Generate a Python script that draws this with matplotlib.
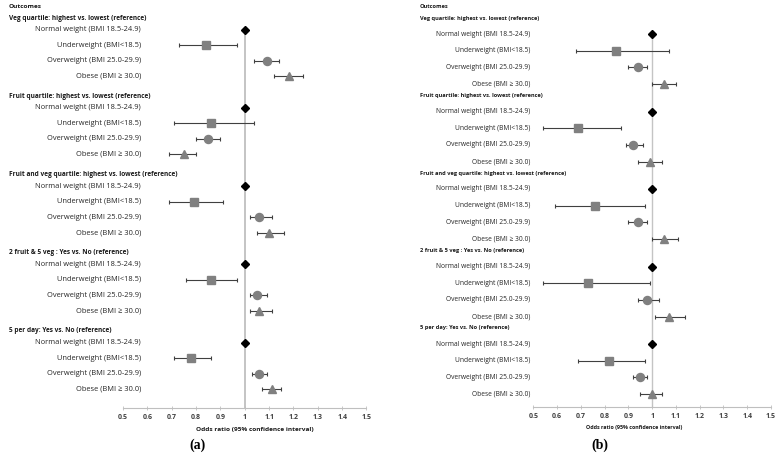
import matplotlib
matplotlib.use("Agg")
import matplotlib.pyplot as plt
import matplotlib.transforms as mtransforms

plt.rcParams["font.family"] = ["Open Sans", "DejaVu Sans"]

groups = [
    "Veg quartile: highest vs. lowest (reference)",
    "Fruit quartile: highest vs. lowest (reference)",
    "Fruit and veg quartile: highest vs. lowest (reference)",
    "2 fruit & 5 veg : Yes vs. No (reference)",
    "5 per day: Yes vs. No (reference)",
]
rows = [
    "Normal weight (BMI 18.5-24.9)",
    "Underweight (BMI<18.5)",
    "Overweight (BMI 25.0-29.9)",
    "Obese (BMI \u2265 30.0)",
]
ticks = [0.5, 0.6, 0.7, 0.8, 0.9, 1.0, 1.1, 1.2, 1.3, 1.4, 1.5]
tick_labels = ["0.5", "0.6", "0.7", "0.8", "0.9", "1", "1.1", "1.2", "1.3", "1.4", "1.5"]
xlabel = "Odds ratio (95% confidence interval)"

# panel (a): odds ratio, lower and upper CI, per group x [normal, under, over, obese]
or_a = [[1.00, 0.84, 1.09, 1.18],
        [1.00, 0.86, 0.85, 0.75],
        [1.00, 0.79, 1.06, 1.10],
        [1.00, 0.86, 1.05, 1.06],
        [1.00, 0.78, 1.06, 1.11]]
lo_a = [[1.00, 0.73, 1.04, 1.12],
        [1.00, 0.71, 0.80, 0.69],
        [1.00, 0.69, 1.02, 1.05],
        [1.00, 0.76, 1.02, 1.02],
        [1.00, 0.71, 1.03, 1.07]]
hi_a = [[1.00, 0.97, 1.14, 1.24],
        [1.00, 1.04, 0.90, 0.80],
        [1.00, 0.91, 1.11, 1.16],
        [1.00, 0.97, 1.09, 1.11],
        [1.00, 0.86, 1.09, 1.15]]

# panel (b)
or_b = [[1.00, 0.85, 0.94, 1.05],
        [1.00, 0.69, 0.92, 0.99],
        [1.00, 0.76, 0.94, 1.05],
        [1.00, 0.73, 0.98, 1.07],
        [1.00, 0.82, 0.95, 1.00]]
lo_b = [[1.00, 0.68, 0.90, 1.00],
        [1.00, 0.54, 0.89, 0.94],
        [1.00, 0.59, 0.90, 1.00],
        [1.00, 0.54, 0.94, 1.01],
        [1.00, 0.69, 0.92, 0.95]]
hi_b = [[1.00, 1.07, 0.98, 1.10],
        [1.00, 0.87, 0.96, 1.04],
        [1.00, 0.97, 0.98, 1.11],
        [1.00, 0.99, 1.03, 1.14],
        [1.00, 0.97, 0.98, 1.04]]

W, H = 784, 458
MARKERS = [("D", "black", 4.4), ("s", "#808080", 5.4), ("o", "#808080", 5.8), ("^", "#808080", 5.8)]

fig = plt.figure(figsize=(W / 100, H / 100), dpi=100)
renderer = fig.canvas.get_renderer()


def fit_size(text, width_px, bold=False):
    """Font size that makes `text` about width_px pixels wide."""
    t = fig.text(0, 0, text, fontsize=10, fontweight="bold" if bold else "normal")
    w = t.get_window_extent(renderer).width
    t.remove()
    return 10 * width_px / w


def panel(x0, x1, y_axis, head0, step, first, row_h, label_x, head_x,
          vals, lows, highs, w_row, w_head, w_out, w_xlab, xlabel_x, tag, tag_x, lw_ref):
    ax = fig.add_axes([x0 / W, 1 - y_axis / H, (x1 - x0) / W, y_axis / H])
    ax.set_xlim(0.5, 1.5)
    ax.set_ylim(y_axis, 0)
    tr = mtransforms.blended_transform_factory(fig.transFigure, ax.transData)

    fs_row = fit_size(rows[0], w_row)
    fs_head = fit_size(groups[0], w_head, bold=True)
    fs_out = fit_size("Outcomes", w_out, bold=True)
    fs_xlab = fit_size(xlabel, w_xlab, bold=True)

    ax.plot([1, 1], [head0 + first, y_axis], color="#c4c4c4", lw=lw_ref, zorder=1)

    ax.text(head_x / W, head0 - 12, "Outcomes", transform=tr, fontsize=fs_out,
            fontweight="bold", ha="left", va="center", color="#1a1a1a")
    for g, name in enumerate(groups):
        hy = head0 + g * step
        ax.text(head_x / W, hy, name, transform=tr, fontsize=fs_head,
                fontweight="bold", ha="left", va="center", color="#1a1a1a")
        for i, lab in enumerate(rows):
            y = hy + first + i * row_h
            ax.text(label_x / W, y, lab, transform=tr, fontsize=fs_row,
                    ha="right", va="center", color="#262626")
            m, c, ms = MARKERS[i]
            v, lo, hi = vals[g][i], lows[g][i], highs[g][i]
            if i == 0:
                ax.plot(v, y, marker=m, color=c, ms=ms, zorder=3, clip_on=False)
            else:
                ax.errorbar(v, y, xerr=[[v - lo], [hi - v]], fmt=m, color=c,
                            ms=ms, ecolor="#404040", elinewidth=0.8, capsize=1.6,
                            capthick=0.8, zorder=3)

    for s in ["top", "left", "right"]:
        ax.spines[s].set_visible(False)
    ax.spines["bottom"].set_color("#bfbfbf")
    ax.spines["bottom"].set_linewidth(0.8)
    ax.set_yticks([])
    ax.set_xticks(ticks)
    ax.set_xticklabels(tick_labels, fontsize=5.0, fontweight="bold", color="#404040")
    ax.tick_params(axis="x", direction="inout", length=3, width=0.6, color="#bfbfbf", pad=3)

    fig.text(xlabel_x / W, 1 - (y_axis + 21) / H, xlabel,
             fontsize=fs_xlab, fontweight="bold", ha="center", va="center", color="#1a1a1a")
    fig.text(tag_x / W, 1 - 445 / H, tag, fontsize=10, fontweight="bold",
             family=["Liberation Serif", "DejaVu Serif"], ha="center", va="center")
    return ax


panel(123, 366.5, 408, 18, 78.25, 11.6, 15.5, 141, 9,
      or_a, lo_a, hi_a, 106, 139, 33, 117, 255, "(a)", 197, 1.4)
panel(533.3, 771, 406.7, 18, 77.5, 16, 16.7, 530, 420,
      or_b, lo_b, hi_b, 93, 120, 29, 98, 634, "(b)", 600, 1.0)

fig.savefig("out.png", dpi=100)
